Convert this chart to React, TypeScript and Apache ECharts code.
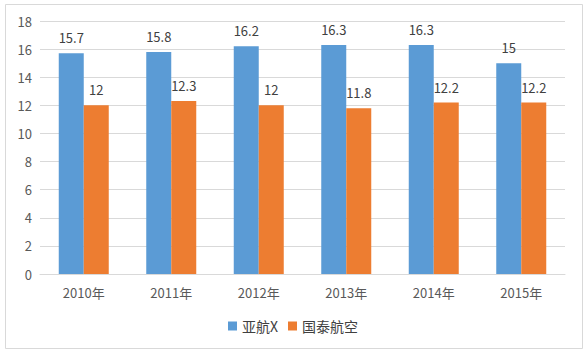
import React, { useEffect, useRef } from "react";
import * as echarts from "echarts";

const categories = ["2010年", "2011年", "2012年", "2013年", "2014年", "2015年"];
const airAsiaX = [15.7, 15.8, 16.2, 16.3, 16.3, 15];
const cathay = [12, 12.3, 12, 11.8, 12.2, 12.2];
const seriesNames = ["亚航X", "国泰航空"];

export default function App() {
  const ref = useRef<HTMLDivElement>(null);
  useEffect(() => {
    if (!ref.current) return;
    const chart = echarts.init(ref.current, undefined, { renderer: "svg" });
    const font = "'Microsoft YaHei', 'Noto Sans CJK SC', 'DejaVu Sans', sans-serif";
    const label = {
      show: true,
      position: "top" as const,
      distance: 9,
      color: "#404040",
      fontSize: 13,
      fontFamily: font,
    };
    chart.setOption({
      animation: false,
      backgroundColor: "#ffffff",
      graphic: [
        {
          type: "rect",
          shape: { x: 5.5, y: 4.5, width: 577, height: 344 },
          style: { fill: "none", stroke: "#D9D9D9", lineWidth: 1 },
          silent: true,
        },
      ],
      grid: { left: 40, right: 21, top: 21, bottom: 80 },
      legend: {
        bottom: 16,
        left: "center",
        itemWidth: 9,
        itemHeight: 9,
        itemGap: 10,
        icon: "rect",
        textStyle: { color: "#404040", fontSize: 14, fontFamily: font },
        data: seriesNames,
      },
      xAxis: {
        type: "category",
        data: categories,
        axisLine: { show: true, lineStyle: { color: "#D9D9D9" } },
        axisTick: { show: false },
        axisLabel: { color: "#595959", fontSize: 13, fontFamily: font, margin: 12 },
      },
      yAxis: {
        type: "value",
        min: 0,
        max: 18,
        interval: 2,
        axisLine: { show: false },
        axisTick: { show: false },
        axisLabel: { color: "#595959", fontSize: 13, fontFamily: font, margin: 8 },
        splitLine: { lineStyle: { color: "#D9D9D9" } },
      },
      series: [
        {
          name: seriesNames[0],
          type: "bar",
          data: airAsiaX,
          barWidth: 25,
          barGap: "0%",
          itemStyle: { color: "#5B9BD5" },
          label,
        },
        {
          name: seriesNames[1],
          type: "bar",
          data: cathay,
          barWidth: 25,
          barGap: "0%",
          itemStyle: { color: "#ED7D31" },
          label,
        },
      ],
    });
    return () => chart.dispose();
  }, []);
  return (
    <div
      ref={ref}
      style={{ position: "fixed", left: 0, top: 0, width: 586, height: 354 }}
    />
  );
}
